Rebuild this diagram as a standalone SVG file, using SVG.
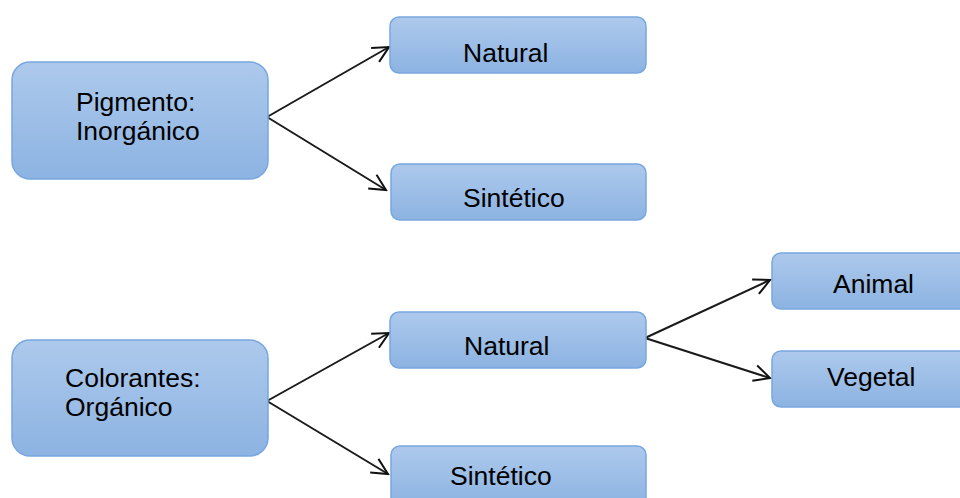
<svg xmlns="http://www.w3.org/2000/svg" width="960" height="498" viewBox="0 0 960 498">
<defs>
<linearGradient id="g" x1="0" y1="0" x2="0" y2="1">
<stop offset="0" stop-color="#adc9ec"/>
<stop offset="1" stop-color="#8cb3e2"/>
</linearGradient>
<marker id="a" viewBox="0 0 20 20" refX="18" refY="10" markerWidth="20" markerHeight="20" markerUnits="userSpaceOnUse" orient="auto">
<path d="M2,2 L18,10 L2,18" fill="none" stroke="#111" stroke-width="2"/>
</marker>
</defs>
<style>
.box{fill:url(#g);stroke:#78a7df;stroke-width:1.5}
.t{font-family:"Liberation Sans",Arial,sans-serif;font-size:26.5px;fill:#000}
.c{fill:none;stroke:#1a1a1a;stroke-width:2;marker-end:url(#a)}
</style>
<rect width="960" height="498" fill="#fff"/>
<g id="connectors">
<path class="c" d="M267,117 L389,47"/>
<path class="c" d="M267,117 L386,190"/>
<path class="c" d="M267,401 L389,333"/>
<path class="c" d="M267,401 L388,474"/>
<path class="c" d="M645,338 L770,280"/>
<path class="c" d="M645,338 L770,378"/>
</g>
<g id="pigmento">
<rect class="box" x="12" y="62" width="256" height="117" rx="18"/>
<text class="t" x="76" y="111">Pigmento:</text>
<text class="t" x="76" y="140">Inorgánico</text>
</g>
<g id="natural1">
<rect class="box" x="390" y="17" width="256" height="56" rx="9"/>
<text class="t" x="463" y="62">Natural</text>
</g>
<g id="sintetico1">
<rect class="box" x="391" y="164" width="255" height="56" rx="9"/>
<text class="t" x="463" y="207">Sintético</text>
</g>
<g id="colorantes">
<rect class="box" x="12" y="340" width="256" height="116" rx="18"/>
<text class="t" x="65" y="387">Colorantes:</text>
<text class="t" x="65" y="416">Orgánico</text>
</g>
<g id="natural2">
<rect class="box" x="390" y="312" width="256" height="56" rx="9"/>
<text class="t" x="464" y="355">Natural</text>
</g>
<g id="sintetico2">
<rect class="box" x="391" y="446" width="255" height="60" rx="9"/>
<text class="t" x="450" y="485">Sintético</text>
</g>
<g id="animal">
<rect class="box" x="772" y="253" width="200" height="56" rx="9"/>
<text class="t" x="833" y="293">Animal</text>
</g>
<g id="vegetal">
<rect class="box" x="772" y="351" width="200" height="56" rx="9"/>
<text class="t" x="827" y="386">Vegetal</text>
</g>
</svg>
